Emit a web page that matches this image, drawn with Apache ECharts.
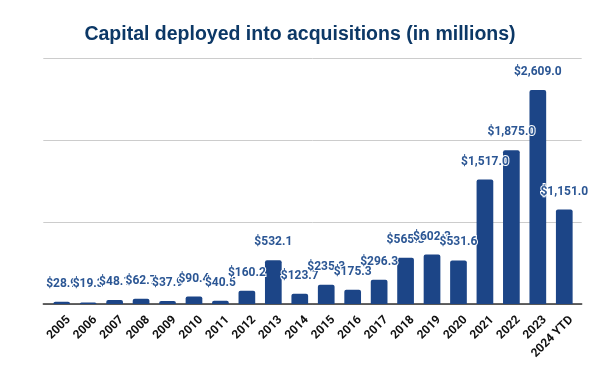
<!DOCTYPE html>
<html><head><meta charset="utf-8">
<script src="https://cdn.jsdelivr.net/npm/echarts@6/dist/echarts.min.js"></script>
<style>html,body{margin:0;padding:0;background:#fff}#c{width:600px;height:371px}</style>
</head><body><div id="c"></div>
<script>
var categories = ['2005','2006','2007','2008','2009','2010','2011','2012','2013','2014','2015','2016','2017','2018','2019','2020','2021','2022','2023','2024 YTD'];
var values = [28.9,19.3,48.1,62.7,37.9,90.4,40.5,160.2,532.1,123.7,235.3,175.3,296.3,565.3,602.3,531.6,1517.0,1875.0,2609.0,1151.0];
var yTicks = [0,1000,2000,3000];

var chart = echarts.init(document.getElementById('c'));
function fmt(v){return '$' + v.toLocaleString('en-US',{minimumFractionDigits:1,maximumFractionDigits:1});}
var yMin = yTicks[0], yMax = yTicks[yTicks.length-1];
chart.setOption({
  animation:false,
  title:{text:'Capital deployed into acquisitions (in millions)',left:'center',top:19.5,
    textStyle:{fontFamily:'Liberation Sans',fontWeight:'bold',fontSize:19.5,color:'#0c3866'}},
  grid:[
    {left:43.3,right:18.3,top:58,bottom:67},   // gridlines + baseline
    {left:48.5,right:22.5,top:58,bottom:67},   // bars
    {left:55.5,right:15.5,top:58,bottom:67}    // category labels
  ],
  xAxis:[
    {gridIndex:0,type:'value',min:0,max:1,axisLabel:{show:false},axisTick:{show:false},splitLine:{show:false},
      axisLine:{show:true,onZero:false,lineStyle:{color:'#333',width:1.5}}},
    {gridIndex:1,type:'category',data:categories,axisLine:{show:false},axisTick:{show:false},axisLabel:{show:false}},
    {gridIndex:2,type:'category',data:categories,axisLine:{show:false},axisTick:{show:false},
      axisLabel:{rotate:45,interval:0,margin:14,fontFamily:'Roboto',fontWeight:'bold',fontSize:12,color:'#111'}}
  ],
  yAxis:[
    {gridIndex:0,type:'value',min:yMin,max:yMax,interval:1000,axisLabel:{show:false},axisLine:{show:false},axisTick:{show:false},
      splitLine:{lineStyle:{color:'#cccccc'}}},
    {gridIndex:1,type:'value',min:yMin,max:yMax,interval:1000,show:false},
    {gridIndex:2,type:'value',min:yMin,max:yMax,interval:1000,show:false}
  ],
  series:[{type:'bar',xAxisIndex:1,yAxisIndex:1,data:values,barWidth:16.7,
    itemStyle:{color:'#1c4587',borderRadius:[2,2,0,0]},
    label:{show:true,position:'top',distance:12,formatter:function(p){return fmt(p.value);},
      fontFamily:'Roboto',fontWeight:'bold',fontSize:12,color:'#2b5694',
      textBorderColor:'#fff',textBorderWidth:2}}]
});
</script></body></html>
